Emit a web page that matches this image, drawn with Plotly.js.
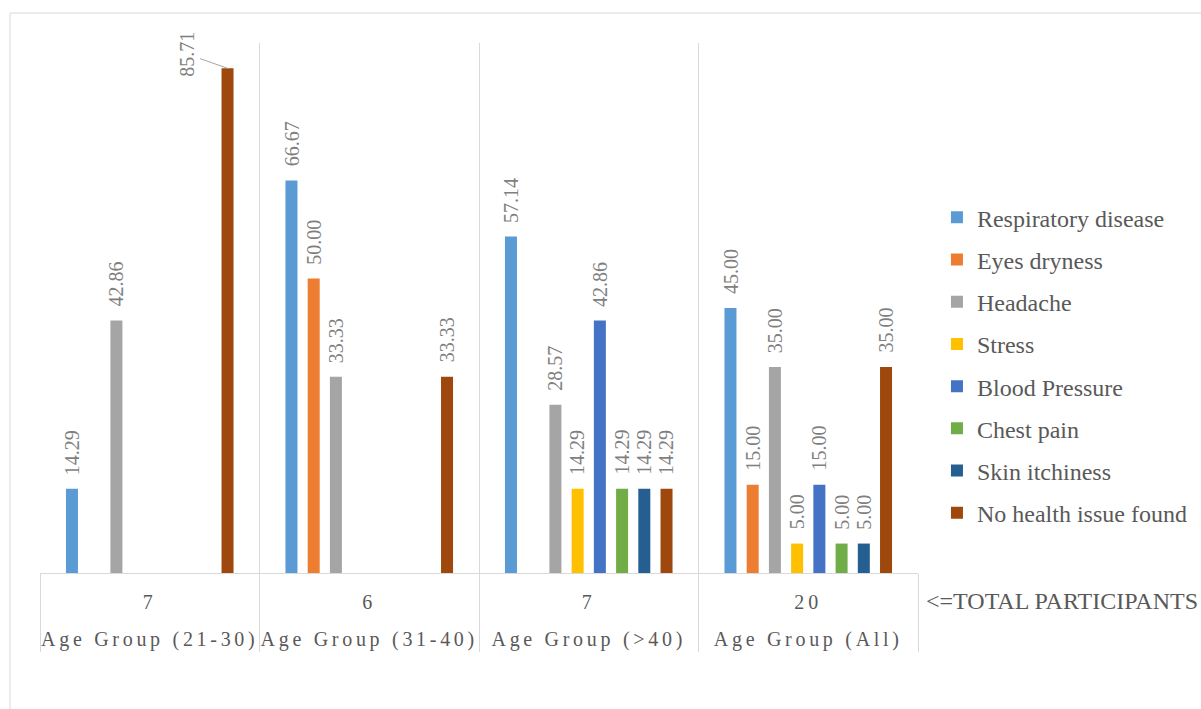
<!DOCTYPE html>
<html>
<head>
<meta charset="utf-8">
<script src="https://cdn.plot.ly/plotly-3.0.1.min.js"></script>
<style>
  html, body { margin: 0; padding: 0; background: #fff; }
  #chart { width: 1201px; height: 709px; }
  g.xtick2 { transform: translateY(24px); }
  g.xtick2 text { letter-spacing: 3.7px; }
  g.xtick text { letter-spacing: 4px; }
</style>
</head>
<body>
<div id="chart"></div>
<script>
const groupNames = ["Age Group (21-30)", "Age Group (31-40)", "Age Group (>40)", "Age Group (All)"];
const totals = ["7", "6", "7", "20"];
const seriesNames = ["Respiratory disease", "Eyes dryness", "Headache", "Stress", "Blood Pressure", "Chest pain", "Skin itchiness", "No health issue found"];
const colors = ["#5B9BD5", "#ED7D31", "#A5A5A5", "#FFC000", "#4472C4", "#70AD47", "#255E91", "#9E480E"];

const respiratory = [14.29, 66.67, 57.14, 45.00];
const eyesDryness = [null, 50.00, null, 15.00];
const headache = [42.86, 33.33, 28.57, 35.00];
const stress = [null, null, 14.29, 5.00];
const bloodPressure = [null, null, 42.86, 15.00];
const chestPain = [null, null, 14.29, 5.00];
const skinItchiness = [null, null, 14.29, 5.00];
const noHealthIssue = [85.71, 33.33, 14.29, 35.00];

const seriesValues = [respiratory, eyesDryness, headache, stress, bloodPressure, chestPain, skinItchiness, noHealthIssue];

// the label that Excel moved aside with a leader line
const calloutSeries = 7, calloutGroup = 0;

const FONT = '"Liberation Serif", "Times New Roman", serif';
const bargap = 0.19, bargroupgap = 0.46;
const nSeries = seriesNames.length;

const traces = seriesValues.map((vals, i) => ({
  type: 'bar',
  name: seriesNames[i],
  legendgroup: 'g' + i,
  x: [groupNames, totals],
  y: vals,
  marker: { color: colors[i] },
  hoverinfo: 'skip'
}));

// data labels, positioned through the axis at each bar's slot
function slotX(groupIdx, seriesIdx) {
  return groupIdx + ((seriesIdx + 0.5) / nSeries - 0.5) * (1 - bargap);
}
const labelFont = { family: FONT, size: 20, color: '#7f7f7f' };
const annotations = [];
seriesValues.forEach((vals, i) => {
  vals.forEach((v, j) => {
    if (v == null) return;
    if (i === calloutSeries && j === calloutGroup) {
      annotations.push({
        xref: 'x', yref: 'y', x: slotX(j, i), y: v,
        text: v.toFixed(2), textangle: -90,
        showarrow: true, arrowhead: 0, arrowwidth: 1, arrowcolor: '#a6a6a6',
        ax: -40, ay: -14, font: labelFont
      });
    } else {
      annotations.push({
        xref: 'x', yref: 'y', x: slotX(j, i), y: v,
        text: v.toFixed(2), textangle: -90,
        xanchor: 'center', yanchor: 'bottom', yshift: 12,
        showarrow: false, font: labelFont
      });
    }
  });
});
annotations.push({
  xref: 'paper', yref: 'paper',
  x: 1.0065, y: -0.053,
  xanchor: 'left', yanchor: 'middle',
  text: '<=TOTAL PARTICIPANTS',
  showarrow: false,
  font: { family: FONT, size: 24, color: '#595959' }
});

const layout = {
  width: 1201,
  height: 709,
  margin: { l: 40, r: 283, t: 43, b: 136, autoexpand: false },
  paper_bgcolor: '#ffffff',
  plot_bgcolor: '#ffffff',
  barmode: 'group',
  bargap: bargap,
  bargroupgap: bargroupgap,
  font: { family: FONT, color: '#595959' },
  showlegend: true,
  legend: {
    x: 1.0216, xanchor: 'left',
    y: 0.392, yanchor: 'middle',
    font: { size: 24, color: '#595959', family: FONT },
    tracegroupgap: 8,
    itemwidth: 30,
    bgcolor: 'rgba(0,0,0,0)'
  },
  xaxis: {
    type: 'multicategory',
    showgrid: true,
    gridcolor: '#d9d9d9',
    gridwidth: 1,
    showline: true,
    linecolor: '#d9d9d9',
    linewidth: 1,
    showdividers: true,
    dividercolor: '#d9d9d9',
    dividerwidth: 1,
    ticks: '',
    ticklabelstandoff: 11,
    tickfont: { size: 20, color: '#595959', family: FONT },
    fixedrange: true
  },
  yaxis: {
    range: [0, 90],
    showgrid: false,
    zeroline: false,
    showticklabels: false,
    showline: false,
    fixedrange: true
  },
  annotations: annotations,
  shapes: [
    {
      type: 'rect', xref: 'paper', yref: 'paper',
      x0: -0.0342, x1: 1.5, y0: -0.5, y1: 1.0566,
      line: { color: '#d9d9d9', width: 1 },
      fillcolor: 'rgba(0,0,0,0)',
      layer: 'below'
    }
  ]
};

Plotly.newPlot('chart', traces, layout, { displayModeBar: false, staticPlot: true });
</script>
</body>
</html>
